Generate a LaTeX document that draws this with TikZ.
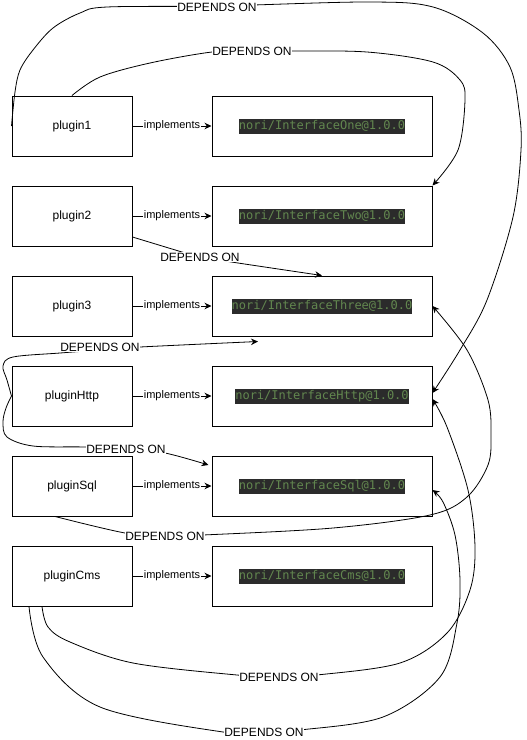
\documentclass[tikz,border=0pt]{standalone}
\usepackage{fontspec}
\setmainfont{Liberation Sans}
\newfontfamily\codefont{DejaVu Sans Mono}
\usetikzlibrary{arrows.meta}
\definecolor{codebg}{HTML}{2B2B2B}
\definecolor{codefg}{HTML}{62874F}

\begin{document}
\begin{tikzpicture}[x=1pt,y=-1pt,
  plugbox/.style={draw, line width=1pt, minimum width=120pt, minimum height=60pt,
    font=\fontsize{12}{14}\selectfont, inner sep=0pt},
  ifbox/.style={draw, line width=1pt, minimum width=220pt, minimum height=60pt, inner sep=0pt},
  code/.style={fill=codebg, text=codefg, font=\codefont\fontsize{12}{14}\selectfont,
    inner xsep=0pt, inner ysep=0pt, text height=10.5pt, text depth=4.5pt},
  tip/.style={-{Stealth[length=7pt,width=6.5pt]}},
  impl/.style={fill=white, font=\fontsize{11}{13}\selectfont, inner sep=1pt},
  dep/.style={fill=white, font=\fontsize{12}{14}\selectfont, inner sep=0.6pt},
  wire/.style={line width=0.8pt, line join=round, tip}
]
\useasboundingbox (0,0) rectangle (527,740);

% plugins (left column) and their interfaces (right column)
\foreach \n/\lab/\y in {p1/plugin1/126, p2/plugin2/216, p3/plugin3/306,
                        pHttp/pluginHttp/396, pSql/pluginSql/486, pCms/pluginCms/576}
  \node[plugbox] (\n) at (72,\y) {\lab};

\foreach \n/\lab/\y in {i1/nori\slash InterfaceOne@1.0.0/126,
                        i2/nori\slash InterfaceTwo@1.0.0/216,
                        i3/nori\slash InterfaceThree@1.0.0/306,
                        iHttp/nori\slash InterfaceHttp@1.0.0/396,
                        iSql/nori\slash InterfaceSql@1.0.0/486,
                        iCms/nori\slash InterfaceCms@1.0.0/576}{
  \node[ifbox] (\n) at (322,\y) {};
  \node[code] (\n t) at (\n) {\lab};
}

% implements relations
\foreach \a/\b in {p1/i1, p2/i2, p3/i3, pHttp/iHttp, pSql/iSql, pCms/iCms}
  \draw[line width=0.8pt, tip] (\a) -- (\b) node[midway, impl] {implements};

% dependency curves
\draw[wire] plot[smooth, tension=0.55] coordinates {(p1.west) (15,92) (20,70) (33,50) (53,28)
  (80,13) (107,7) (217,6) (367,2) (433,7) (483,33) (510,67) (519,110) (521,150) (513,217)
  (487,300) (460,350) ([yshift=3pt]iHttp.east)};

\draw[wire] plot[smooth, tension=0.55] coordinates {(p1.north) (100,77) (150,63) (212,52)
  (252,51) (290,51) (367,52) (433,62) (460,80) (465,100) (458,150) (i2.north east)};

\draw[wire] plot[smooth, tension=0.5] coordinates {([yshift=-21pt]p2.east) (182,252)
  (200,257) (238,263) (i3.north)};

\draw[wire] plot[smooth, tension=0.55] coordinates {(pHttp.west) (7,380) (3,366) (13,357)
  (60,353) (100,350) (140,347) ([xshift=-64pt,yshift=-5pt]i3.south)};

\draw[wire] plot[smooth, tension=0.55] coordinates {(pHttp.west) (6,408) (3,422) (7,437)
  (33,446) (85,447) (126,449) (165,453) ([xshift=-3pt,yshift=21pt]iSql.west)};

\draw[wire] plot[smooth, tension=0.55] coordinates {([xshift=-17pt]pSql.south) (125,533)
  (165,536) (203,535) (333,528) (430,515) (467,497) (488,465) (491,435) (488,400)
  (467,350) (i3.east)};

\draw[wire] plot[smooth, tension=0.55] coordinates {([xshift=-30pt]pCms.south) (48,627)
  (70,642) (133,663) (237,675) (279,677) (317,675) (400,663) (447,633) (470,590)
  (475,547) (468,490) (447,427) ([yshift=-3pt]iHttp.east)};

\draw[wire] plot[smooth, tension=0.55] coordinates {([xshift=-43pt]pCms.south) (43,657)
  (100,707) (223,732) (264,732) (300,730) (383,717) (440,677) (457,623) (460,580)
  (455,535) (443,502) ([yshift=-4pt]iSql.east)};

% dependency labels
\node[dep] (d1) at (217,7)   {DEPENDS ON};
\node[dep] (d2) at (252,51)  {DEPENDS ON};
\node[dep] (d3) at (200,257) {DEPENDS ON};
\node[dep] (d4) at (100,347) {DEPENDS ON};
\node[dep] (d5) at (126,449) {DEPENDS ON};
\node[dep] (d6) at (165,536) {DEPENDS ON};
\node[dep] (d7) at (279,677) {DEPENDS ON};
\node[dep] (d8) at (264,732) {DEPENDS ON};
\end{tikzpicture}
\end{document}
